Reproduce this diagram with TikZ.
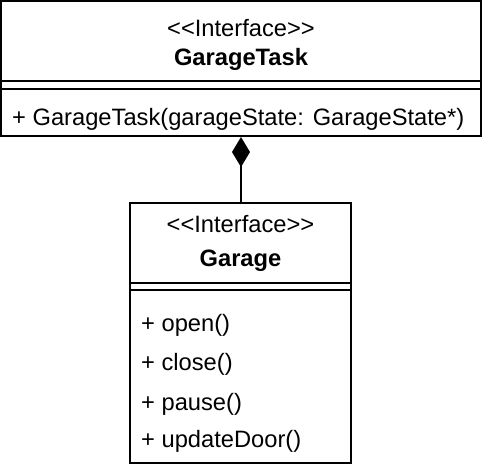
\documentclass[tikz,border=0pt]{standalone}
\usepackage{fontspec}
\setmainfont{Liberation Sans}
\usetikzlibrary{arrows.meta}
\begin{document}
\begin{tikzpicture}[x=1pt,y=-1pt,
  umlbox/.style={draw,line width=2pt,rectangle,inner sep=0pt},
  sep/.style={line width=2pt},
  txt/.style={font=\fontsize{23.7}{28}\selectfont,inner sep=0pt},
  bold/.style={font=\fontsize{23.7}{28}\selectfont\bfseries},
  comp/.style={line width=2pt,-{Diamond[length=30pt,width=18pt,fill=black,line width=0pt]}}]
\useasboundingbox (0,0) rectangle (482,464);
% GarageTask
\node[umlbox,minimum width=480pt,minimum height=135pt] (task) at (241,68.5) {};
\draw[sep] (1,81) -- (481,81);
\draw[sep] (1,89) -- (481,89);
\node[txt,anchor=base] (taskst) at (241,36) {<\kern0pt<Interface>\kern0pt>};
\node[txt,bold,anchor=base] (taskname) at (241,65) {GarageTask};
\node[txt,anchor=base west] (taskm) at (12,125) {+ GarageTask(garageState: GarageState*)};
% Garage
\node[umlbox,minimum width=221pt,minimum height=260pt] (garage) at (240.5,333) {};
\draw[sep] (130,283) -- (351,283);
\draw[sep] (130,290) -- (351,290);
\node[txt,anchor=base] (gst) at (240.5,232) {<\kern0pt<Interface>\kern0pt>};
\node[txt,bold,anchor=base] (gname) at (240.5,266) {Garage};
\node[txt,anchor=base west] (m1) at (141,331) {+ open()};
\node[txt,anchor=base west] (m2) at (141,370) {+ close()};
\node[txt,anchor=base west] (m3) at (141,410) {+ pause()};
\node[txt,anchor=base west] (m4) at (141,447) {+ updateDoor()};
% composition
\draw[comp] (garage.north -| task.south) -- (task.south);
\end{tikzpicture}
\end{document}
